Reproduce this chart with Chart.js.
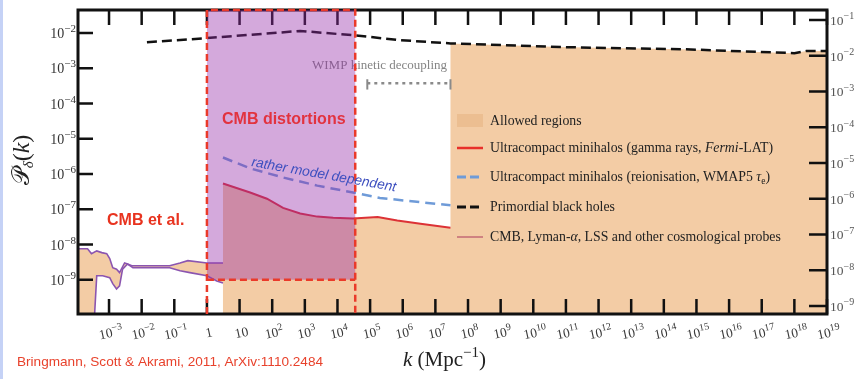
<!DOCTYPE html>
<html>
<head>
<meta charset="utf-8">
<script src="https://cdn.jsdelivr.net/npm/chart.js@4.4.1/dist/chart.umd.min.js"></script>
<style>
  html, body { margin: 0; padding: 0; background: #fff; }
  #wrap { position: relative; width: 863px; height: 379px; }
  #edge { position: absolute; left: 0; top: 0; width: 3px; height: 379px; background: #c5d2f6; }
</style>
</head>
<body>
<div id="wrap">
  <canvas id="chart" width="863" height="379"></canvas>
  <div id="edge"></div>
</div>
<script>
// ---- values (k in Mpc^-1, P_delta) ----
const cmbUpperK = [1e-4, 2.2e-4, 2.9e-4, 4.2e-4, 6e-4, 8.5e-4, 1.05e-3, 1.3e-3, 1.7e-3, 2.1e-3, 3e-3, 3.7e-3, 5e-3, 7e-3, 0.072, 0.15, 0.26, 1, 3.1];
const cmbUpperP = [7.6e-9, 7.6e-9, 5.5e-9, 6.6e-9, 5.9e-9, 5.5e-9, 4e-9, 2.2e-9, 2.0e-9, 1.6e-9, 3e-9, 2.8e-9, 2.5e-9, 2.5e-9, 2.5e-9, 3.0e-9, 3.5e-9, 3.0e-9, 3.0e-9];
const cmbLowerK = [3.6e-4, 4.2e-4, 6.4e-4, 1.05e-3, 1.3e-3, 1.7e-3, 2.1e-3, 2.6e-3, 3.7e-3, 5.4e-3, 7e-3, 0.072, 0.15, 0.3, 1, 2, 3.1];
const cmbLowerP = [1e-10, 1.3e-9, 1.3e-9, 1.15e-9, 7.8e-10, 5.5e-10, 6.7e-10, 2e-9, 2.8e-9, 2.2e-9, 2.2e-9, 2.2e-9, 1.8e-9, 1.6e-9, 1.3e-9, 9.3e-10, 8.1e-10];

const fermiK = [3.1, 21, 69, 215, 720, 2.4e3, 7.4e3, 3e4, 1.7e5, 6.8e5, 3.5e6, 2.9e7];
const fermiP = [5.4e-7, 3.0e-7, 2.0e-7, 1.1e-7, 7.6e-8, 6.2e-8, 5.8e-8, 5.5e-8, 6.0e-8, 4.8e-8, 3.9e-8, 3.0e-8];

const reionK = [3.1, 21, 215, 2.4e3, 3e4, 2e5, 2.9e7];
const reionP = [2.95e-6, 1.45e-6, 8e-7, 4.7e-7, 3e-7, 2.1e-7, 1.3e-7];

const pbhK = [0.0145, 1, 720, 3e4, 8.5e5, 2.9e7, 6.9e10, 3.3e14, 1e18, 2.3e18, 1e19];
const pbhP = [5.5e-3, 7.2e-3, 1.15e-2, 8.7e-3, 6.3e-3, 5.1e-3, 4e-3, 3.5e-3, 2.7e-3, 3.1e-3, 3.1e-3];

// CMB distortions box and WIMP kinetic decoupling range
const distK = [1, 3.5e4];
const distP = 1e-9;
const wimpK = [8.2e4, 2.9e7];
const wimpP = [2.5e-4, 3.8e-4, 4.9e-4];

// axes
const X_MIN = 1.12e-4, X_MAX = 1e19;
const Y_MIN = 1.07e-10, Y_MAX = 4.52e-2;
const Y2_MIN = 5.96e-10, Y2_MAX = 0.19;
const xTickValues = [1e-3, 1e-2, 1e-1, 1, 10, 1e2, 1e3, 1e4, 1e5, 1e6, 1e7, 1e8, 1e9, 1e10, 1e11, 1e12, 1e13, 1e14, 1e15, 1e16, 1e17, 1e18, 1e19];
const xTickLabels = ['10^−3', '10^−2', '10^−1', '1', '10', '10^2', '10^3', '10^4', '10^5', '10^6', '10^7', '10^8', '10^9', '10^10', '10^11', '10^12', '10^13', '10^14', '10^15', '10^16', '10^17', '10^18', '10^19'];
const yTickValues = [1e-2, 1e-3, 1e-4, 1e-5, 1e-6, 1e-7, 1e-8, 1e-9];
const yTickLabels = ['10^−2', '10^−3', '10^−4', '10^−5', '10^−6', '10^−7', '10^−8', '10^−9'];
const y2TickValues = [1e-1, 1e-2, 1e-3, 1e-4, 1e-5, 1e-6, 1e-7, 1e-8, 1e-9];
const y2TickLabels = ['10^−1', '10^−2', '10^−3', '10^−4', '10^−5', '10^−6', '10^−7', '10^−8', '10^−9'];

const ORANGE = 'rgb(243,204,165)';
const PURPLE_BOX = 'rgba(147,40,167,0.4)';
const RED_DASH = '#ea3a2a';
const SERIF = '"Liberation Serif"';

const pts = (ks, ps) => ks.map((k, i) => ({ x: k, y: ps[i] }));

const allowedLeft = [
    ...pts(cmbUpperK, cmbUpperP),
    ...pts(cmbLowerK, cmbLowerP).reverse(),
    { x: cmbUpperK[0], y: 1e-10 }
];
const allowedRight = [
    { x: fermiK[0], y: 1e-10 },
    ...pts(fermiK, fermiP),
    ...pts(pbhK, pbhP).filter(p => p.x >= fermiK[fermiK.length - 1]),
    { x: X_MAX, y: 1e-10 }
];

const datasets = [
    { label: 'allowedLeft', data: allowedLeft, fill: 'shape', backgroundColor: ORANGE, borderWidth: 0, order: 20 },
    { label: 'allowedRight', data: allowedRight, fill: 'shape', backgroundColor: ORANGE, borderWidth: 0, order: 19 },
    { label: 'fermi', data: pts(fermiK, fermiP), borderColor: '#dc3236', borderWidth: 2, order: 18 },
    { label: 'reion', data: pts(reionK, reionP), borderColor: '#6f9bd8', borderWidth: 2.5, borderDash: [10, 6], order: 17 },
    { label: 'pbh', data: pts(pbhK, pbhP), borderColor: '#111', borderWidth: 2.5, borderDash: [10, 5], order: 16 },
    { label: 'cmbUpper', data: pts(cmbUpperK, cmbUpperP), borderColor: '#8b55b0', borderWidth: 1.6, order: 15 },
    { label: 'cmbLower', data: pts(cmbLowerK, cmbLowerP), borderColor: '#8b55b0', borderWidth: 1.6, order: 14 },
    { label: 'wimp', data: [{ x: wimpK[0], y: wimpP[1] }, { x: wimpK[1], y: wimpP[1] }], borderColor: '#8a8a8a', borderWidth: 2.5, borderDash: [3, 4], order: 13 },
    { label: 'wimpBarL', data: [{ x: wimpK[0], y: wimpP[0] }, { x: wimpK[0], y: wimpP[2] }], borderColor: '#8a8a8a', borderWidth: 2, order: 12 },
    { label: 'wimpBarR', data: [{ x: wimpK[1], y: wimpP[0] }, { x: wimpK[1], y: wimpP[2] }], borderColor: '#8a8a8a', borderWidth: 2, order: 11 },
    { label: 'distBox', data: [{ x: distK[0], y: distP }, { x: distK[0], y: Y_MAX }, { x: distK[1], y: Y_MAX }, { x: distK[1], y: distP }],
      fill: 'shape', backgroundColor: PURPLE_BOX, borderWidth: 0, order: 10 },
    { label: 'distEdge', data: [{ x: distK[0], y: Y_MIN }, { x: distK[0], y: Y_MAX }, { x: distK[1], y: Y_MAX }, { x: distK[1], y: Y_MIN }],
      borderColor: RED_DASH, borderWidth: 2.5, borderDash: [7, 4], clip: false, order: 9 },
    { label: 'distBottom', data: [{ x: distK[0], y: distP }, { x: distK[1], y: distP }],
      borderColor: RED_DASH, borderWidth: 2.5, borderDash: [7, 4], order: 8 }
];

function runs(ctx, x, y, parts) {
    for (const [text, font, dy] of parts) {
        ctx.font = font;
        ctx.fillText(text, x, y + (dy || 0));
        x += ctx.measureText(text).width;
    }
    return x;
}

// "10^−3" -> base + raised exponent
function powParts(label, size) {
    const [base, exp] = label.split('^');
    const parts = [[base, size + 'px ' + SERIF]];
    if (exp) parts.push([exp, Math.round(size * 0.76) + 'px ' + SERIF, -size * 0.42]);
    return parts;
}
function partsWidth(ctx, parts) {
    let w = 0;
    parts.forEach(([t, f]) => { ctx.font = f; w += ctx.measureText(t).width; });
    return w;
}

function drawTickLabels(chart) {
    const { ctx, chartArea: a, scales } = chart;
    ctx.save();
    ctx.textBaseline = 'alphabetic';
    ctx.fillStyle = '#3a3a3a';
    scales.x.ticks.forEach((t, i) => {
        const parts = powParts(xTickLabels[i], 13.5);
        const w = partsWidth(ctx, parts);
        ctx.save();
        ctx.translate(scales.x.getPixelForValue(t.value) + 2, a.bottom + 19);
        ctx.rotate(-12 * Math.PI / 180);
        runs(ctx, -w / 2, 4, parts);
        ctx.restore();
    });
    ctx.fillStyle = '#333';
    scales.y.ticks.forEach((t, i) => {
        const parts = powParts(yTickLabels[i], 14);
        const w = partsWidth(ctx, parts);
        runs(ctx, a.left - 2 - w, scales.y.getPixelForValue(t.value) + 5, parts);
    });
    ctx.fillStyle = '#555';
    scales.y2.ticks.forEach((t, i) => {
        const parts = powParts(y2TickLabels[i], 13.5);
        runs(ctx, a.right + 3, scales.y2.getPixelForValue(t.value) + 5, parts);
    });
    ctx.restore();
}

function drawFrame(chart) {
    const { ctx, chartArea: a, scales } = chart;
    ctx.save();
    ctx.strokeStyle = '#111';
    ctx.lineWidth = 2.5;
    ctx.beginPath();
    scales.x.ticks.forEach(t => {
        const x = scales.x.getPixelForValue(t.value);
        ctx.moveTo(x, a.bottom); ctx.lineTo(x, a.bottom - 15);
        ctx.moveTo(x, a.top); ctx.lineTo(x, a.top + 15);
    });
    scales.y.ticks.forEach(t => {
        const y = scales.y.getPixelForValue(t.value);
        ctx.moveTo(a.left, y); ctx.lineTo(a.left + 15, y);
    });
    scales.y2.ticks.forEach(t => {
        const y = scales.y2.getPixelForValue(t.value);
        ctx.moveTo(a.right, y); ctx.lineTo(a.right - 18, y);
    });
    ctx.stroke();
    ctx.lineWidth = 3;
    ctx.strokeRect(a.left, a.top, a.right - a.left, a.bottom - a.top);

    // WIMP label sits under the purple box
    ctx.fillStyle = '#858585';
    ctx.font = '13px ' + SERIF;
    ctx.fillText('WIMP kinetic decoupling', 312, 69);
    ctx.restore();
}

const decor = {
    id: 'decor',
    afterDatasetDraw(chart, args) {
        if (chart.data.datasets[args.index].label === 'wimpBarR') drawFrame(chart);
    },
    afterDraw(chart) {
        const ctx = chart.ctx;
        drawTickLabels(chart);
        ctx.save();
        ctx.textBaseline = 'alphabetic';

        // region labels
        ctx.fillStyle = '#e2333f';
        ctx.font = 'bold 16px "Liberation Sans"';
        ctx.fillText('CMB distortions', 222, 124);
        ctx.fillStyle = '#e8331f';
        ctx.fillText('CMB et al.', 107, 225);

        ctx.save();
        ctx.translate(251, 166);
        ctx.rotate(10 * Math.PI / 180);
        ctx.fillStyle = '#3d4fbf';
        ctx.font = 'italic 13.8px "Liberation Sans"';
        ctx.fillText('rather model dependent', 0, 0);
        ctx.restore();

        // legend
        const lx = 457, tx = 490;
        const serif = '13.8px ' + SERIF, ital = 'italic 13.8px ' + SERIF, sub = '9.5px ' + SERIF;
        ctx.fillStyle = 'rgb(236,190,145)';
        ctx.fillRect(lx, 114, 26, 13);
        const line = (y, color, w, dash) => {
            ctx.beginPath(); ctx.setLineDash(dash); ctx.strokeStyle = color; ctx.lineWidth = w;
            ctx.moveTo(lx, y); ctx.lineTo(lx + 26, y); ctx.stroke(); ctx.setLineDash([]);
        };
        line(148, '#e8302a', 2.5, []);
        line(177, '#6f9bd8', 3, [9, 4]);
        line(207, '#111', 3, [9, 4]);
        line(237, '#b8506a', 1.2, []);
        ctx.fillStyle = '#222';
        runs(ctx, tx, 125, [['Allowed regions', serif]]);
        runs(ctx, tx, 152, [['Ultracompact minihalos (gamma rays, ', serif], ['Fermi', ital], ['-LAT)', serif]]);
        runs(ctx, tx, 181, [['Ultracompact minihalos (reionisation, WMAP5 ', serif], ['τ', ital], ['e', sub, 3], [')', serif]]);
        runs(ctx, tx, 211, [['Primordial black holes', serif]]);
        runs(ctx, tx, 241, [['CMB, Lyman-', serif], ['α', ital], [', LSS and other cosmological probes', serif]]);

        // axis titles
        ctx.fillStyle = '#222';
        runs(ctx, 403, 366, [['k', 'italic 21px ' + SERIF], [' (Mpc', '21px ' + SERIF], ['−1', '15px ' + SERIF, -9], [')', '21px ' + SERIF]]);

        ctx.save();
        ctx.translate(21, 160);
        ctx.rotate(-Math.PI / 2);
        const yParts = [['𝒫', '24px ' + SERIF], ['δ', 'italic 15px ' + SERIF, 4], ['(', '24px ' + SERIF], ['k', 'italic 24px ' + SERIF], [')', '24px ' + SERIF]];
        runs(ctx, -partsWidth(ctx, yParts) / 2, 8, yParts);
        ctx.restore();

        // citation
        ctx.fillStyle = '#e8422c';
        ctx.font = '13.6px "Liberation Sans"';
        ctx.fillText('Bringmann, Scott & Akrami, 2011, ArXiv:1110.2484', 17, 366);
        ctx.restore();
    }
};

new Chart(document.getElementById('chart'), {
    type: 'line',
    data: { datasets },
    options: {
        responsive: false,
        animation: false,
        layout: { padding: { top: 10, left: 0, right: 0, bottom: 0 } },
        plugins: { legend: { display: false }, tooltip: { enabled: false } },
        elements: { point: { radius: 0 }, line: { tension: 0 } },
        scales: {
            x: {
                type: 'logarithmic', position: 'bottom', min: X_MIN, max: X_MAX,
                grid: { display: false, drawTicks: false }, border: { display: false },
                afterBuildTicks: s => { s.ticks = xTickValues.map(v => ({ value: v })); },
                afterFit: s => { s.height = 65; },
                ticks: { display: false, autoSkip: false }
            },
            y: {
                type: 'logarithmic', position: 'left', min: Y_MIN, max: Y_MAX,
                grid: { display: false, drawTicks: false }, border: { display: false },
                afterBuildTicks: s => { s.ticks = yTickValues.map(v => ({ value: v })); },
                afterFit: s => { s.width = 78; },
                ticks: { display: false }
            },
            y2: {
                type: 'logarithmic', position: 'right', min: Y2_MIN, max: Y2_MAX,
                grid: { display: false, drawTicks: false }, border: { display: false },
                afterBuildTicks: s => { s.ticks = y2TickValues.map(v => ({ value: v })); },
                afterFit: s => { s.width = 36; },
                ticks: { display: false }
            }
        }
    },
    plugins: [decor]
});
</script>
</body>
</html>
